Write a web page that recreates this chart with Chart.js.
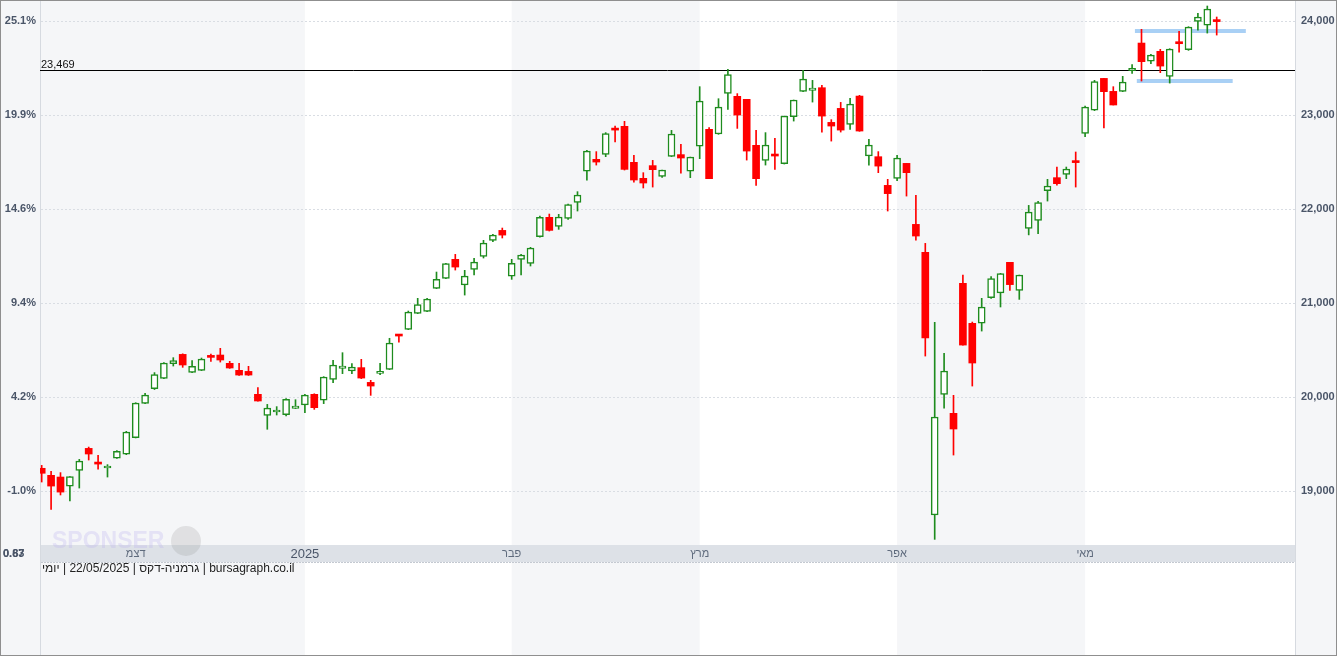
<!DOCTYPE html>
<html>
<head>
<meta charset="utf-8">
<script src="https://cdn.jsdelivr.net/npm/chart.js@4.4.1/dist/chart.umd.min.js"></script>
<style>
  html, body { margin: 0; padding: 0; background: #fff; overflow: hidden; }
  #wrap { width: 1337px; height: 656px; }
</style>
</head>
<body>
<div id="wrap"><canvas id="daxChart" width="1337" height="656"></canvas></div>
<script>
// DAX daily candles, 18/11/2024 - 22/05/2025
const opens = [
  19242, 19167, 19149, 19053, 19220, 19454, 19302, 19245, 19351, 19391,
  19568, 19933, 20089, 20199, 20355, 20454, 20263, 20284, 20436, 20447,
  20359, 20284, 20273, 20029, 19805, 19841, 19813, 19880, 19915, 20029,
  19968, 20188, 20305, 20277, 20313, 20156, 20252, 20295, 20664, 20720,
  20891, 20912, 21156, 21263, 21465, 21192, 21359, 21497, 21667, 21773,
  21287, 21465, 21422, 21706, 21912, 21816, 21901, 22071, 22404, 22529,
  22582, 22851, 22880, 22497, 22327, 22462, 22348, 22561, 22579, 22404,
  22670, 22848, 22798, 23231, 23199, 23167, 22678, 22518, 22579, 22483,
  22983, 23252, 23263, 23291, 22922, 23071, 22901, 23202, 22564, 22557,
  22252, 22327, 22486, 21837, 21539, 18745, 20029, 19827, 21210, 20784,
  20787, 21058, 21107, 21433, 21135, 21795, 21880, 22196, 22334, 22369,
  22515, 22805, 23053, 23390, 23252, 23252, 23472, 23766, 23574, 23678,
  23412, 23773, 23696, 23997, 23957, 24015
];
const highs = [
  19273, 19210, 19196, 19153, 19337, 19468, 19380, 19281, 19430, 19635,
  19940, 20040, 20260, 20366, 20419, 20460, 20387, 20415, 20458, 20518,
  20380, 20359, 20327, 20100, 19922, 19898, 19983, 19972, 20029, 20035,
  20217, 20391, 20472, 20355, 20401, 20178, 20359, 20625, 20667, 20915,
  21050, 21050, 21330, 21422, 21518, 21348, 21476, 21667, 21731, 21798,
  21465, 21518, 21593, 21926, 21947, 21944, 22053, 22185, 22624, 22611,
  22813, 22883, 22933, 22571, 22387, 22518, 22415, 22837, 22688, 22553,
  23302, 22866, 23174, 23486, 23228, 23167, 22837, 22813, 22752, 22989,
  23160, 23476, 23369, 23316, 22951, 23135, 23178, 23210, 22742, 22611,
  22316, 22571, 22486, 22146, 21635, 20795, 20465, 20018, 21298, 20798,
  21050, 21281, 21316, 21433, 21298, 22039, 22082, 22316, 22447, 22447,
  22607, 23096, 23369, 23390, 23302, 23412, 23536, 23912, 23646, 23699,
  23706, 23890, 23940, 24082, 24160, 24043
];
const lows = [
  19096, 18805, 18958, 18894, 19032, 19330, 19234, 19149, 19348, 19387,
  19565, 19930, 20080, 20196, 20330, 20316, 20260, 20281, 20380, 20372,
  20305, 20230, 20230, 19955, 19657, 19809, 19798, 19877, 19834, 19869,
  19930, 20153, 20249, 20249, 20196, 20018, 20238, 20292, 20585, 20717,
  20887, 20909, 21153, 21260, 21351, 21085, 21298, 21479, 21653, 21692,
  21252, 21298, 21394, 21702, 21766, 21784, 21890, 21979, 22308, 22468,
  22557, 22713, 22415, 22287, 22224, 22234, 22337, 22558, 22383, 22334,
  22536, 22323, 22795, 23061, 22858, 22521, 22252, 22468, 22422, 22479,
  22936, 23249, 23138, 22819, 22723, 22819, 22848, 22827, 22468, 22387,
  21979, 22302, 22138, 21670, 20436, 18486, 19883, 19383, 20553, 20117,
  20702, 21050, 20958, 21135, 21039, 21725, 21738, 22085, 22255, 22323,
  22234, 22770, 23047, 22862, 23107, 23249, 23444, 23362, 23547, 23451,
  23340, 23670, 23688, 23904, 23872, 23851
];
const closes = [
  19189, 19053, 18989, 19153, 19319, 19394, 19287, 19266, 19422, 19628,
  19936, 20021, 20238, 20362, 20387, 20341, 20327, 20404, 20422, 20394,
  20309, 20234, 20234, 19958, 19883, 19851, 19976, 19905, 20021, 19887,
  20213, 20341, 20330, 20319, 20202, 20117, 20266, 20575, 20649, 20904,
  20983, 21043, 21252, 21419, 21383, 21287, 21436, 21638, 21723, 21723,
  21422, 21511, 21585, 21912, 21773, 21915, 22047, 22149, 22617, 22500,
  22802, 22840, 22422, 22309, 22277, 22419, 22415, 22798, 22543, 22553,
  23149, 22323, 23085, 23430, 23000, 22617, 22323, 22681, 22564, 22989,
  23160, 23383, 23287, 22989, 22883, 22840, 23117, 22830, 22681, 22457,
  22164, 22543, 22387, 21713, 20628, 19788, 20277, 19660, 20553, 20362,
  20957, 21260, 21313, 21196, 21298, 21968, 22068, 22245, 22270, 22425,
  22494, 23085, 23356, 23249, 23107, 23351, 23497, 23568, 23638, 23521,
  23702, 23759, 23936, 24043, 24128, 23994
];

// month starts (candle index) and their labels
const monthStart = [10, 28, 50, 70, 91, 111];
const monthLabels = ['דצמ', '2025', 'פבר', 'מרץ', 'אפר', 'מאי'];

// price ticks, right axis; left axis shows % from first close
const yTicks = [19000, 20000, 21000, 22000, 23000, 24000];

// horizontal marker line
const markLevel = 23469;

// two drawn support / resistance strokes
const levelValues = [23893, 23362];
const levelFrom = [116.3, 116.5];
const levelTo = [128.1, 126.7];

const footerText = 'bursagraph.co.il | גרמניה-דקס | 22/05/2025 | יומי';

const UP = '#1e8c1e';
const DOWN = '#ff0000';
const SHADE = '#f5f6f8';
const LABEL = '#4a5568';

const idx = opens.map((_, i) => i);
const isUp = idx.map(i => closes[i] >= opens[i]);
const baseClose = closes[0];

const bodyData = idx.map(i => ({ x: i, y: [opens[i], closes[i]] }));
const wickData = idx.map(i => ({ x: i, y: [lows[i], highs[i]] }));

const levelSets = levelValues.map((v, k) => ({
    type: 'line',
    data: [{ x: levelFrom[k], y: v }, { x: levelTo[k], y: v }],
    borderColor: '#a9d0f5',
    borderWidth: 4,
    pointRadius: 0,
    order: 3,
    yAxisID: 'y'
}));

// фон, полосы месяцев, сетка, подписи
const backdrop = {
    id: 'backdrop',
    beforeDraw(chart) {
        const { ctx, chartArea: a, scales: { x, y } } = chart;
        const W = chart.width, H = chart.height;
        ctx.save();
        ctx.fillStyle = '#ffffff';
        ctx.fillRect(0, 0, W, H);

        // alternating month columns
        ctx.fillStyle = SHADE;
        for (let k = 0; k < monthStart.length; k += 2) {
            const x0 = k === 0 ? a.left : x.getPixelForValue(monthStart[k]);
            const x1 = k + 1 < monthStart.length ? x.getPixelForValue(monthStart[k + 1]) : a.right;
            ctx.fillRect(x0, 0, x1 - x0, H);
        }
        ctx.fillRect(0, 0, a.left, H);
        ctx.fillRect(a.right, 0, W - a.right, H);

        // axis separators
        ctx.strokeStyle = '#d6dae0';
        ctx.lineWidth = 1;
        ctx.beginPath();
        ctx.moveTo(a.left + 0.5, 0); ctx.lineTo(a.left + 0.5, H);
        ctx.moveTo(a.right + 0.5, 0); ctx.lineTo(a.right + 0.5, H);
        ctx.stroke();

        // dotted grid
        ctx.strokeStyle = '#d9dde3';
        ctx.setLineDash([2, 2]);
        yTicks.forEach(v => {
            const py = Math.round(y.getPixelForValue(v)) + 0.5;
            ctx.beginPath();
            ctx.moveTo(a.left + 1, py);
            ctx.lineTo(a.right, py);
            ctx.stroke();
        });

        // time axis band
        const bandTop = a.bottom;
        const bandH = 17;
        ctx.setLineDash([]);
        ctx.fillStyle = '#dde1e7';
        ctx.fillRect(a.left + 1, bandTop, a.right - a.left - 1, bandH);
        ctx.strokeStyle = '#c4c9d1';
        ctx.setLineDash([2, 1]);
        ctx.beginPath();
        ctx.moveTo(a.left + 1, bandTop + bandH + 0.5);
        ctx.lineTo(a.right, bandTop + bandH + 0.5);
        ctx.stroke();
        ctx.setLineDash([]);

        // watermark
        ctx.fillStyle = 'rgba(190, 178, 238, 0.3)';
        ctx.font = 'bold 23px "Liberation Sans", Arial, sans-serif';
        ctx.textAlign = 'left';
        ctx.textBaseline = 'middle';
        ctx.fillText('SPONSER', 52, 542);
        ctx.fillStyle = 'rgba(140, 140, 140, 0.2)';
        ctx.beginPath();
        ctx.arc(186, 541, 15, 0, Math.PI * 2);
        ctx.fill();

        // month labels
        ctx.textAlign = 'center';
        ctx.textBaseline = 'middle';
        monthStart.forEach((m, k) => {
            const px = x.getPixelForValue(m);
            const isYear = /^\d+$/.test(monthLabels[k]);
            ctx.font = (isYear ? '13px' : '11px') + ' "Liberation Sans", Arial, sans-serif';
            ctx.fillStyle = isYear ? LABEL : '#5f6b7d';
            ctx.fillText(monthLabels[k], px, bandTop + bandH / 2 + 0.5);
        });

        // stray labels in left panel
        ctx.font = 'bold 11px "Liberation Sans", Arial, sans-serif';
        ctx.fillStyle = LABEL;
        ctx.textAlign = 'left';
        ctx.fillText('0.83', 3, bandTop + bandH / 2);
        ctx.fillText('0.67', 3, bandTop + bandH / 2);

        // footer
        ctx.font = '12px "Liberation Sans", Arial, sans-serif';
        ctx.fillStyle = '#222222';
        ctx.direction = 'rtl';
        ctx.textAlign = 'left';
        ctx.fillText(footerText, a.left + 2, bandTop + bandH + 7);
        ctx.restore();
    },
    beforeDatasetsDraw(chart) {
        const { ctx, chartArea: a, scales: { y } } = chart;
        const py = Math.floor(y.getPixelForValue(markLevel)) + 0.5;
        ctx.save();
        ctx.strokeStyle = '#000000';
        ctx.lineWidth = 1;
        ctx.beginPath();
        ctx.moveTo(a.left, py);
        ctx.lineTo(a.right, py);
        ctx.stroke();
        ctx.font = '11px "Liberation Sans", Arial, sans-serif';
        ctx.fillStyle = '#111111';
        ctx.textAlign = 'left';
        ctx.textBaseline = 'bottom';
        ctx.fillText(markLevel.toLocaleString('en-US'), a.left + 1, py);
        ctx.restore();
    },
    afterDraw(chart) {
        const { ctx } = chart;
        ctx.save();
        ctx.strokeStyle = '#8f8f8f';
        ctx.lineWidth = 2;
        ctx.strokeRect(0, 0, chart.width, chart.height);
        ctx.restore();
    }
};

const tickFont = { family: '"Liberation Sans", Arial, sans-serif', size: 11, weight: 'bold' };

function fixAxis(width) {
    return scale => {
        scale.width = width;
        scale.paddingTop = 0;
        scale.paddingBottom = 0;
    };
}

new Chart(document.getElementById('daxChart'), {
    type: 'bar',
    data: {
        datasets: [
            {
                data: bodyData,
                backgroundColor: ctx => isUp[ctx.dataIndex] ? '#ffffff' : DOWN,
                borderColor: ctx => isUp[ctx.dataIndex] ? UP : DOWN,
                borderWidth: ctx => isUp[ctx.dataIndex] ? 1.5 : 0,
                borderSkipped: false,
                barThickness: 7,
                minBarLength: 2,
                grouped: false,
                order: 0,
                yAxisID: 'y'
            },
            {
                data: wickData,
                backgroundColor: ctx => isUp[ctx.dataIndex] ? UP : DOWN,
                borderWidth: 0,
                barThickness: 1,
                grouped: false,
                order: 1,
                yAxisID: 'y'
            },
            ...levelSets
        ]
    },
    options: {
        responsive: false,
        animation: false,
        events: [],
        layout: { padding: { left: 0, right: 0, top: 0, bottom: 111 } },
        plugins: {
            legend: { display: false },
            tooltip: { enabled: false }
        },
        scales: {
            x: {
                type: 'linear',
                display: false,
                min: -0.18,
                max: 133.33,
                offset: false
            },
            y: {
                type: 'linear',
                position: 'right',
                min: 18426,
                max: 24224,
                afterBuildTicks: s => { s.ticks = yTicks.map(v => ({ value: v })); },
                afterFit: fixAxis(42),
                grid: { display: false, drawTicks: false },
                border: { display: false },
                ticks: {
                    padding: 6,
                    font: tickFont,
                    color: LABEL,
                    callback: v => v.toLocaleString('en-US')
                }
            },
            yl: {
                type: 'linear',
                position: 'left',
                min: 18426,
                max: 24224,
                afterBuildTicks: s => { s.ticks = yTicks.map(v => ({ value: v })); },
                afterFit: fixAxis(40),
                grid: { display: false, drawTicks: false },
                border: { display: false },
                ticks: {
                    padding: 4,
                    font: tickFont,
                    color: LABEL,
                    callback: v => ((v / baseClose - 1) * 100).toFixed(1) + '%'
                }
            }
        }
    },
    plugins: [backdrop]
});
</script>
</body>
</html>
